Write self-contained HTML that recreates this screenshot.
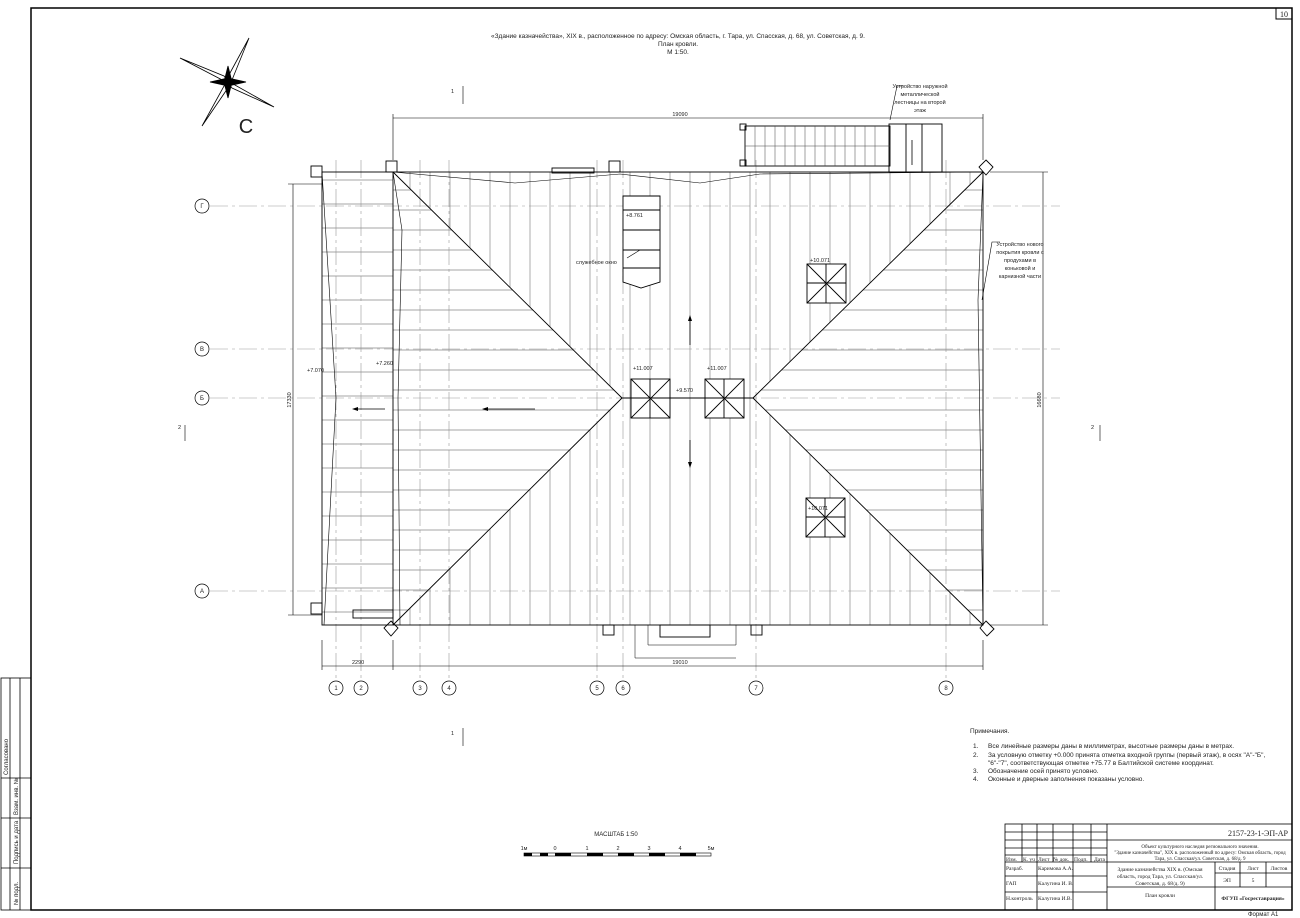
<!DOCTYPE html>
<html><head><meta charset="utf-8"><style>
body{margin:0;background:#fff;}
svg{display:block;font-family:"Liberation Sans","DejaVu Sans",sans-serif;}
text{fill:#222;}
</style></head><body>
<svg width="1300" height="918" viewBox="0 0 1300 918" xmlns="http://www.w3.org/2000/svg">
<defs>
<pattern id="ph" patternUnits="userSpaceOnUse" width="20" height="20"><line x1="0" y1="10" x2="20" y2="10" stroke="#888" stroke-width="0.7"/></pattern>
<pattern id="pv" patternUnits="userSpaceOnUse" width="20" height="20"><line x1="10" y1="0" x2="10" y2="20" stroke="#888" stroke-width="0.7"/></pattern>
<pattern id="ph2" patternUnits="userSpaceOnUse" width="24" height="24"><line x1="0" y1="12" x2="24" y2="12" stroke="#888" stroke-width="0.7"/></pattern>
</defs>
<rect width="1300" height="918" fill="#fff"/>
<rect x="31" y="8" width="1261" height="902" fill="none" stroke="#000" stroke-width="1.5"/>
<rect x="1276" y="8" width="16" height="11" fill="none" stroke="#000"/>
<text x="1284" y="17" font-size="8" text-anchor="middle" font-family="Liberation Serif">10</text>
<g stroke="#000" stroke-width="0.8" fill="none">
<rect x="1" y="678" width="30" height="232"/>
<line x1="10" y1="678" x2="10" y2="910"/><line x1="20" y1="678" x2="20" y2="910"/>
<line x1="1" y1="778" x2="31" y2="778"/><line x1="1" y1="818" x2="31" y2="818"/><line x1="1" y1="868" x2="31" y2="868"/>
</g>
<text transform="translate(8,775) rotate(-90)" font-size="6">Согласовано</text>
<text transform="translate(18,815) rotate(-90)" font-size="6">Взам. инв. №</text>
<text transform="translate(18,864) rotate(-90)" font-size="6">Подпись и дата</text>
<text transform="translate(18,905) rotate(-90)" font-size="6">№ подл.</text>
<text x="678" y="38" font-size="6.5" text-anchor="middle">«Здание казначейства», XIX в., расположенное по адресу: Омская область, г. Тара, ул. Спасская, д. 68, ул. Советская, д. 9.</text>
<text x="678" y="46" font-size="6.5" text-anchor="middle">План кровли.</text>
<text x="678" y="54" font-size="6.5" text-anchor="middle">М 1:50.</text>
<g stroke="#000" stroke-width="0.8" fill="#fff">
<polygon points="249,38 232,80 224,84"/>
<polygon points="180,58 224,76 230,84"/>
<polygon points="274,107 232,88 226,80"/>
<polygon points="202,126 224,86 232,82"/>
<polygon points="228,66 232,82 224,82" fill="#000"/><polygon points="228,98 224,82 232,82" fill="#000"/>
<polygon points="210,82 228,78 228,86" fill="#000"/><polygon points="246,82 228,78 228,86" fill="#000"/>
</g>
<text x="246" y="133" font-size="20" text-anchor="middle">С</text>
<g stroke="#999" stroke-width="0.6" stroke-dasharray="18,4,3,4">
<line x1="210" y1="206" x2="1060" y2="206"/>
<line x1="210" y1="349" x2="1060" y2="349"/>
<line x1="210" y1="398" x2="1060" y2="398"/>
<line x1="210" y1="591" x2="1060" y2="591"/>
<line x1="336" y1="160" x2="336" y2="680"/><line x1="361" y1="160" x2="361" y2="680"/>
<line x1="420" y1="160" x2="420" y2="680"/><line x1="449" y1="160" x2="449" y2="680"/>
<line x1="597" y1="160" x2="597" y2="680"/><line x1="623" y1="160" x2="623" y2="680"/>
<line x1="756" y1="160" x2="756" y2="680"/><line x1="946" y1="160" x2="946" y2="680"/>
</g>
<g fill="#fff" stroke="#000" stroke-width="0.7" font-size="6">
<circle cx="202" cy="206" r="7"/><circle cx="202" cy="349" r="7"/><circle cx="202" cy="398" r="7"/><circle cx="202" cy="591" r="7"/>
<circle cx="336" cy="688" r="7"/><circle cx="361" cy="688" r="7"/><circle cx="420" cy="688" r="7"/><circle cx="449" cy="688" r="7"/>
<circle cx="597" cy="688" r="7"/><circle cx="623" cy="688" r="7"/><circle cx="756" cy="688" r="7"/><circle cx="946" cy="688" r="7"/>
</g>
<g font-size="6" text-anchor="middle">
<text x="202" y="208">Г</text><text x="202" y="351">В</text><text x="202" y="400">Б</text><text x="202" y="593">А</text>
<text x="336" y="690">1</text><text x="361" y="690">2</text><text x="420" y="690">3</text><text x="449" y="690">4</text>
<text x="597" y="690">5</text><text x="623" y="690">6</text><text x="756" y="690">7</text><text x="946" y="690">8</text>
</g>
<polygon points="393,172 622,398 393,625" fill="url(#ph)"/>
<polygon points="983,172 753,398 983,625" fill="url(#ph)"/>
<polygon points="393,172 983,172 753,398 622,398" fill="url(#pv)"/>
<polygon points="393,625 983,625 753,398 622,398" fill="url(#pv)"/>
<rect x="322" y="172" width="71" height="453" fill="url(#ph2)"/>
<g stroke="#000" stroke-width="0.9" fill="none">
<rect x="322" y="172" width="661" height="453"/>
<line x1="393" y1="172" x2="393" y2="625"/>
<line x1="393" y1="172" x2="622" y2="398"/><line x1="983" y1="172" x2="753" y2="398"/>
<line x1="393" y1="625" x2="622" y2="398"/><line x1="983" y1="625" x2="753" y2="398"/>
<line x1="622" y1="398" x2="753" y2="398"/>
<polyline points="393,172 515,183 620,174 700,183 760,174 983,172" stroke-width="0.6"/>
<polyline points="322,172 336,398 324,625" stroke-width="0.6"/>
<polyline points="393,172 402,230 398,398 400,625" stroke-width="0.6"/>
<polyline points="983,172 978,300 983,625" stroke-width="0.6"/>
<rect x="631" y="379" width="39" height="39" fill="#fff"/><line x1="631" y1="379" x2="670" y2="418"/><line x1="670" y1="379" x2="631" y2="418"/><line x1="650" y1="379" x2="650" y2="418"/><line x1="631" y1="398" x2="670" y2="398"/>
<rect x="705" y="379" width="39" height="39" fill="#fff"/><line x1="705" y1="379" x2="744" y2="418"/><line x1="744" y1="379" x2="705" y2="418"/><line x1="724" y1="379" x2="724" y2="418"/><line x1="705" y1="398" x2="744" y2="398"/>
<rect x="807" y="264" width="39" height="39" fill="#fff"/><line x1="807" y1="264" x2="846" y2="303"/><line x1="846" y1="264" x2="807" y2="303"/><line x1="826" y1="264" x2="826" y2="303"/><line x1="807" y1="283" x2="846" y2="283"/>
<rect x="806" y="498" width="39" height="39" fill="#fff"/><line x1="806" y1="498" x2="845" y2="537"/><line x1="845" y1="498" x2="806" y2="537"/><line x1="825" y1="498" x2="825" y2="537"/><line x1="806" y1="517" x2="845" y2="517"/>
<polygon points="623,196 660,196 660,282 641,288 623,282" fill="#fff"/>
<line x1="623" y1="210" x2="660" y2="210"/><line x1="623" y1="230" x2="660" y2="230"/><line x1="623" y1="250" x2="660" y2="250"/><line x1="623" y1="268" x2="660" y2="268"/>
<rect x="311" y="166" width="11" height="11"/><rect x="386" y="161" width="11" height="11"/><rect x="609" y="161" width="11" height="11"/>
<rect x="311" y="603" width="11" height="11"/><rect x="603" y="625" width="11" height="10"/><rect x="751" y="625" width="11" height="10"/>
<rect x="552" y="168" width="42" height="5"/>
<polygon points="986,160 993,167 986,175 979,167"/><polygon points="986,621 994,629 987,636 980,628"/><polygon points="391,621 398,628 391,636 384,628"/>
<rect x="353" y="610" width="40" height="8"/>
<rect x="660" y="625" width="50" height="12"/><polyline points="648,625 648,645 736,645 736,625" stroke-width="0.5"/>
<polyline points="635,625 635,658 736,658" stroke-width="0.5"/>
<rect x="745" y="126" width="145" height="40"/><rect x="889" y="124" width="53" height="48"/>
<rect x="740" y="124" width="6" height="6"/><rect x="740" y="160" width="6" height="6"/>
<line x1="906" y1="124" x2="906" y2="172"/><line x1="922" y1="124" x2="922" y2="172"/>
</g>
<g stroke="#444" stroke-width="0.5">
<line x1="755" y1="126" x2="755" y2="166"/><line x1="765" y1="126" x2="765" y2="166"/><line x1="775" y1="126" x2="775" y2="166"/><line x1="785" y1="126" x2="785" y2="166"/><line x1="795" y1="126" x2="795" y2="166"/><line x1="805" y1="126" x2="805" y2="166"/><line x1="815" y1="126" x2="815" y2="166"/><line x1="825" y1="126" x2="825" y2="166"/><line x1="835" y1="126" x2="835" y2="166"/><line x1="845" y1="126" x2="845" y2="166"/><line x1="855" y1="126" x2="855" y2="166"/><line x1="865" y1="126" x2="865" y2="166"/><line x1="875" y1="126" x2="875" y2="166"/>
<line x1="745" y1="146" x2="890" y2="146"/>
</g>
<g stroke="#000" stroke-width="0.8">
<line x1="355" y1="409" x2="385" y2="409"/><line x1="485" y1="409" x2="535" y2="409"/>
<line x1="690" y1="318" x2="690" y2="345"/><line x1="690" y1="440" x2="690" y2="465"/>
<line x1="912" y1="140" x2="912" y2="165"/>
</g>
<g fill="#000">
<polygon points="352,409 358,407 358,411"/><polygon points="482,409 488,407 488,411"/>
<polygon points="690,315 688,321 692,321"/><polygon points="690,468 688,462 692,462"/>
</g>
<g stroke="#000" stroke-width="0.6" fill="none">
<line x1="393" y1="118" x2="983" y2="118"/><line x1="393" y1="114" x2="393" y2="160"/><line x1="983" y1="114" x2="983" y2="160"/>
<line x1="322" y1="666" x2="983" y2="666"/><line x1="322" y1="640" x2="322" y2="670"/><line x1="393" y1="640" x2="393" y2="670"/><line x1="983" y1="640" x2="983" y2="670"/>
<line x1="293" y1="184" x2="293" y2="615"/><line x1="288" y1="184" x2="322" y2="184"/><line x1="288" y1="615" x2="322" y2="615"/>
<line x1="1043" y1="172" x2="1043" y2="625"/><line x1="990" y1="172" x2="1048" y2="172"/><line x1="990" y1="625" x2="1048" y2="625"/>
<polyline points="982,300 992,242 1000,242"/><polyline points="890,120 897,86 903,86"/><polyline points="627,258 640,250"/>
<line x1="463" y1="86" x2="463" y2="104"/><line x1="463" y1="728" x2="463" y2="746"/>
<line x1="185" y1="425" x2="185" y2="441"/><line x1="1100" y1="425" x2="1100" y2="441"/>
</g>
<g font-size="5.5">
<text x="680" y="116" text-anchor="middle">19090</text>
<text x="680" y="664" text-anchor="middle">19010</text>
<text x="352" y="664">2290</text>
<text transform="translate(291,400) rotate(-90)" text-anchor="middle">17330</text>
<text transform="translate(1041,400) rotate(-90)" text-anchor="middle">16680</text>
<text x="307" y="372">+7.070</text><text x="376" y="365">+7.260</text>
<text x="626" y="217">+8.761</text><text x="633" y="370">+11.007</text><text x="707" y="370">+11.007</text>
<text x="676" y="392">+9.570</text><text x="810" y="262">+10.071</text><text x="808" y="510">+10.071</text>
<text x="576" y="264">служебное окно</text>
<text x="451" y="93">1</text><text x="451" y="735">1</text><text x="178" y="429">2</text><text x="1091" y="429">2</text>
<text x="920" y="88" text-anchor="middle">Устройство наружной</text>
<text x="920" y="96" text-anchor="middle">металлической</text>
<text x="920" y="104" text-anchor="middle">лестницы на второй</text>
<text x="920" y="112" text-anchor="middle">этаж</text>
<text x="1020" y="246" text-anchor="middle">Устройство нового</text>
<text x="1020" y="254" text-anchor="middle">покрытия кровли с</text>
<text x="1020" y="262" text-anchor="middle">продухами в</text>
<text x="1020" y="270" text-anchor="middle">коньковой и</text>
<text x="1020" y="278" text-anchor="middle">карнизной части</text>
</g>
<g font-size="6.5">
<text x="970" y="733">Примечания.</text>
<text x="973" y="748">1.</text><text x="988" y="748">Все линейные размеры даны в миллиметрах, высотные размеры даны в метрах.</text>
<text x="973" y="757">2.</text><text x="988" y="757">За условную отметку +0.000 принята отметка входной группы (первый этаж), в осях "А"-"Б",</text>
<text x="988" y="765">"6"-"7", соответствующая отметке +75.77 в Балтийской системе координат.</text>
<text x="973" y="773">3.</text><text x="988" y="773">Обозначение осей принято условно.</text>
<text x="973" y="781">4.</text><text x="988" y="781">Оконные и дверные заполнения показаны условно.</text>
</g>
<text x="616" y="836" font-size="6" text-anchor="middle">МАСШТАБ 1:50</text>
<g font-size="5.5" text-anchor="middle"><text x="524" y="850">1м</text><text x="555" y="850">0</text><text x="587" y="850">1</text><text x="618" y="850">2</text><text x="649" y="850">3</text><text x="680" y="850">4</text><text x="711" y="850">5м</text></g>
<rect x="524" y="853" width="187" height="3" fill="none" stroke="#000" stroke-width="0.6"/>
<g fill="#000"><rect x="524" y="853" width="8" height="3"/><rect x="540" y="853" width="8" height="3"/><rect x="555" y="853" width="16" height="3"/><rect x="587" y="853" width="16" height="3"/><rect x="618" y="853" width="16" height="3"/><rect x="649" y="853" width="16" height="3"/><rect x="680" y="853" width="16" height="3"/></g>
<g stroke="#000" stroke-width="0.8" fill="none">
<rect x="1005" y="824" width="287" height="86"/>
<line x1="1107" y1="824" x2="1107" y2="910"/>
<line x1="1107" y1="840" x2="1292" y2="840"/>
<line x1="1107" y1="862" x2="1292" y2="862"/>
<line x1="1005" y1="862" x2="1107" y2="862"/>
<line x1="1107" y1="887" x2="1292" y2="887"/>
<line x1="1215" y1="862" x2="1215" y2="910"/>
<line x1="1215" y1="873" x2="1292" y2="873"/>
<line x1="1240" y1="862" x2="1240" y2="887"/><line x1="1266" y1="862" x2="1266" y2="887"/>
<line x1="1005" y1="876" x2="1107" y2="876"/><line x1="1005" y1="892" x2="1107" y2="892"/>
<line x1="1022" y1="824" x2="1022" y2="862"/><line x1="1037" y1="824" x2="1037" y2="862"/><line x1="1053" y1="824" x2="1053" y2="862"/><line x1="1073" y1="824" x2="1073" y2="862"/><line x1="1091" y1="824" x2="1091" y2="862"/>
<line x1="1037" y1="862" x2="1037" y2="910"/><line x1="1073" y1="862" x2="1073" y2="910"/>
<line x1="1005" y1="832" x2="1107" y2="832"/><line x1="1005" y1="840" x2="1107" y2="840"/><line x1="1005" y1="848" x2="1107" y2="848"/><line x1="1005" y1="855" x2="1107" y2="855"/>
</g>
<g font-family="Liberation Serif" font-size="5.5">
<text x="1006" y="861">Изм.</text><text x="1023" y="861">К. уч</text><text x="1038" y="861">Лист</text><text x="1053" y="861">№ док.</text><text x="1074" y="861">Подп.</text><text x="1094" y="861">Дата</text>
<text x="1006" y="870">Разраб.</text><text x="1038" y="870">Каримова А.А.</text>
<text x="1006" y="885">ГАП</text><text x="1038" y="885">Калугина И. В.</text>
<text x="1006" y="900">Н.контроль</text><text x="1038" y="900">Калугина И.В.</text>
<text x="1288" y="836" font-size="8" text-anchor="end">2157-23-1-ЭП-АР</text>
<text x="1200" y="848" text-anchor="middle" font-size="5">Объект культурного наследия регионального значения.</text>
<text x="1200" y="854" text-anchor="middle" font-size="5">"Здание казначейства", XIX в. расположенный по адресу: Омская область, город</text>
<text x="1200" y="860" text-anchor="middle" font-size="5">Тара, ул. Спасская/ул. Советская, д. 68/д. 9</text>
<text x="1160" y="871" text-anchor="middle">Здание казначейства XIX в. (Омская</text>
<text x="1160" y="878" text-anchor="middle">область, город Тара, ул. Спасская/ул.</text>
<text x="1160" y="885" text-anchor="middle">Советская, д. 68/д. 9)</text>
<text x="1160" y="897" text-anchor="middle">План кровли</text>
<text x="1227" y="870" text-anchor="middle">Стадия</text><text x="1253" y="870" text-anchor="middle">Лист</text><text x="1279" y="870" text-anchor="middle">Листов</text>
<text x="1227" y="882" text-anchor="middle">ЭП</text><text x="1253" y="882" text-anchor="middle">5</text>
<text x="1253" y="900" text-anchor="middle" font-weight="bold">ФГУП «Госреставрация»</text>
</g>
<text x="1248" y="916" font-size="6">Формат А1</text>
</svg>
</body></html>
